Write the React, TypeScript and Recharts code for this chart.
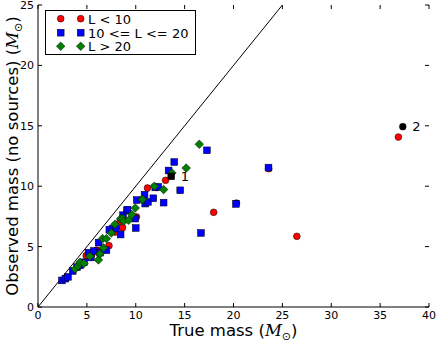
import React from "react";
import { ScatterChart, Scatter, XAxis, YAxis, ReferenceLine, LabelList } from "recharts";

// L < 10
const redX = [4.93, 5.5, 6.0, 6.3, 7.26, 7.7, 7.9, 8.65, 8.4, 10.07, 11.2, 12.16, 13.05, 17.97, 23.6, 26.48, 36.87];
const redY = [4.25, 4.35, 4.7, 4.6, 5.08, 6.35, 6.2, 6.57, 7.1, 7.46, 9.85, 9.9, 10.49, 7.84, 11.45, 5.85, 14.07];
// 10 <= L <= 20
const blueX = [2.45, 2.8, 3.07, 3.55, 4.0, 4.32, 4.7, 5.17, 5.4, 5.7, 6.2, 6.35, 7.0, 7.3, 7.63, 7.97, 8.45, 8.7, 9.1, 9.16, 9.95, 10.0, 10.1, 10.97, 10.9, 11.25, 11.8, 12.0, 12.3, 12.85, 13.36, 13.94, 14.55, 16.67, 17.28, 20.25, 23.58];
const blueY = [2.2, 2.35, 2.49, 2.98, 3.3, 3.45, 3.7, 4.5, 4.1, 4.64, 5.33, 4.5, 4.7, 6.4, 6.49, 6.5, 6.0, 7.6, 8.0, 8.06, 7.32, 6.54, 8.85, 8.56, 9.3, 8.7, 9.0, 9.9, 9.95, 8.64, 11.3, 12.0, 9.66, 6.13, 12.97, 8.53, 11.54];
// L > 20
const greenX = [3.8, 4.1, 4.3, 4.7, 5.3, 6.18, 6.35, 6.7, 6.6, 7.0, 7.5, 7.87, 8.45, 8.65, 8.78, 9.27, 9.6, 9.95, 10.64, 10.7, 11.9, 12.85, 13.7, 15.16, 16.5];
const greenY = [3.15, 3.4, 3.7, 3.6, 4.2, 3.9, 4.4, 4.9, 5.66, 5.66, 6.13, 6.85, 7.3, 7.32, 7.1, 7.18, 7.65, 8.2, 8.9, 8.9, 10.0, 9.72, 11.1, 11.5, 13.47];
// highlighted sources
const markX = [13.63];
const markY = [10.82];
const markLabels = ["1"];
const circleMarkX = [37.32, 20.3];
const circleMarkY = [14.93, 8.6];
const circleMarkLabels = ["2", ""];

const xTicks = [0, 5, 10, 15, 20, 25, 30, 35, 40];
const yTicks = [0, 5, 10, 15, 20, 25];
const legendLabels = ["L < 10", "10 <= L <= 20", "L > 20"];

const W = 436;
const H = 341;
const PLOT_LEFT = 38;
const PLOT_RIGHT = 429;
const PLOT_TOP = 5;
const PLOT_BOTTOM = 307;
const FONT = "'DejaVu Sans', sans-serif";

const zip = (xs: number[], ys: number[], labels?: string[]) =>
  xs.map((x, i) => ({ x, y: ys[i], name: labels ? labels[i] : "" }));

const redData = zip(redX, redY);
const blueData = zip(blueX, blueY);
const greenData = zip(greenX, greenY);
const markData = zip(markX, markY, markLabels);
const circleMarkData = zip(circleMarkX, circleMarkY, circleMarkLabels);

const Circle = (fill: string) => (p: any) => (
  <circle cx={p.cx} cy={p.cy} r={3.4} fill={fill} stroke="#000" strokeWidth={0.5} />
);
const Square = (fill: string) => (p: any) => (
  <rect x={p.cx - 3.4} y={p.cy - 3.4} width={6.8} height={6.8} fill={fill} stroke="#000" strokeWidth={0.5} />
);
const Diamond = (fill: string) => (p: any) => (
  <polygon
    points={`${p.cx},${p.cy - 4.3} ${p.cx + 4.3},${p.cy} ${p.cx},${p.cy + 4.3} ${p.cx - 4.3},${p.cy}`}
    fill={fill}
    stroke="#000"
    strokeWidth={0.5}
  />
);

const PointLabel = (p: any) =>
  p.value ? (
    <text x={p.x + p.width + 5} y={p.y + p.height / 2 + 4.5} fontSize={13} fontFamily={FONT} fill="#000">
      {p.value}
    </text>
  ) : null;

const XTick = (p: any) => (
  <g>
    <line x1={p.x} x2={p.x} y1={PLOT_BOTTOM} y2={PLOT_BOTTOM - 4} stroke="#000" strokeWidth={1} />
    <line x1={p.x} x2={p.x} y1={PLOT_TOP} y2={PLOT_TOP + 4} stroke="#000" strokeWidth={1} />
    <text x={p.x} y={PLOT_BOTTOM + 11.5} textAnchor="middle" fontSize={11} fontFamily={FONT} fill="#000">
      {p.payload.value}
    </text>
  </g>
);

const YTick = (p: any) => (
  <g>
    <line x1={PLOT_LEFT} x2={PLOT_LEFT + 4} y1={p.y} y2={p.y} stroke="#000" strokeWidth={1} />
    <line x1={PLOT_RIGHT} x2={PLOT_RIGHT - 4} y1={p.y} y2={p.y} stroke="#000" strokeWidth={1} />
    <text x={PLOT_LEFT - 4} y={p.y + 4} textAnchor="end" fontSize={11} fontFamily={FONT} fill="#000">
      {p.payload.value}
    </text>
  </g>
);

const XLabel = () => (
  <text x={(PLOT_LEFT + PLOT_RIGHT) / 2} y={335.5} textAnchor="middle" fontSize={16.5} fontFamily={FONT} fill="#000">
    True mass (<tspan fontStyle="italic" fontFamily="'DejaVu Serif', serif">M</tspan>
    <tspan fontSize={11} dy={4}>⊙</tspan>
    <tspan dy={-4}>)</tspan>
  </text>
);

const YLabel = () => (
  <text
    x={0}
    y={0}
    transform={`translate(18, ${(PLOT_TOP + PLOT_BOTTOM) / 2}) rotate(-90)`}
    textAnchor="middle"
    fontSize={16.5}
    fontFamily={FONT}
    fill="#000"
  >
    Observed mass (no sources) (<tspan fontStyle="italic" fontFamily="'DejaVu Serif', serif">M</tspan>
    <tspan fontSize={11} dy={4}>⊙</tspan>
    <tspan dy={-4}>)</tspan>
  </text>
);

const LegendBox = () => {
  const rows = [18.7, 32.7, 46.3];
  const shapes = [Circle("#ff0000"), Square("#0000ff"), Diamond("#008000")];
  return (
    <svg width={W} height={H} style={{ position: "absolute", left: 0, top: 0, pointerEvents: "none" }}>
      <rect x={45.5} y={10.5} width={150} height={44} fill="#fff" stroke="#000" strokeWidth={1} />
      {legendLabels.map((lab, i) => {
        const S = shapes[i];
        return (
          <g key={lab}>
            <S cx={60.7} cy={rows[i]} />
            <S cx={80.7} cy={rows[i]} />
            <text x={88} y={rows[i] + 4.8} fontSize={13} fontFamily={FONT} fill="#000">
              {lab}
            </text>
          </g>
        );
      })}
    </svg>
  );
};

export default function App() {
  return (
    <div style={{ position: "absolute", left: 0, top: 0, width: W, height: H, background: "#fff" }}>
      <ScatterChart width={W} height={H} margin={{ top: PLOT_TOP, right: W - PLOT_RIGHT, bottom: 0, left: 0 }}>
        <XAxis
          type="number"
          dataKey="x"
          domain={[0, 40]}
          ticks={xTicks}
          height={H - PLOT_BOTTOM}
          tickLine={false}
          axisLine={{ stroke: "#000" }}
          tick={<XTick />}
          interval={0}
          allowDataOverflow
          label={<XLabel />}
        />
        <XAxis xAxisId="top" orientation="top" type="number" domain={[0, 40]} height={0} tick={false} tickLine={false} axisLine={{ stroke: "#000" }} />
        <YAxis
          type="number"
          dataKey="y"
          domain={[0, 25]}
          ticks={yTicks}
          width={PLOT_LEFT}
          tickLine={false}
          axisLine={{ stroke: "#000" }}
          tick={<YTick />}
          interval={0}
          allowDataOverflow
          label={<YLabel />}
        />
        <YAxis yAxisId="right" orientation="right" type="number" domain={[0, 25]} width={0} tick={false} tickLine={false} axisLine={{ stroke: "#000" }} />
        <ReferenceLine segment={[{ x: 0, y: 0 }, { x: 25, y: 25 }]} stroke="#000" strokeWidth={1} />
        <Scatter data={redData} shape={Circle("#ff0000")} isAnimationActive={false} />
        <Scatter data={circleMarkData} shape={Circle("#000000")} isAnimationActive={false}>
          <LabelList dataKey="name" content={<PointLabel />} />
        </Scatter>
        <Scatter data={blueData} shape={Square("#0000ff")} isAnimationActive={false} />
        <Scatter data={greenData} shape={Diamond("#008000")} isAnimationActive={false} />
        <Scatter data={markData} shape={Square("#000000")} isAnimationActive={false}>
          <LabelList dataKey="name" content={<PointLabel />} />
        </Scatter>
      </ScatterChart>
      <LegendBox />
    </div>
  );
}
